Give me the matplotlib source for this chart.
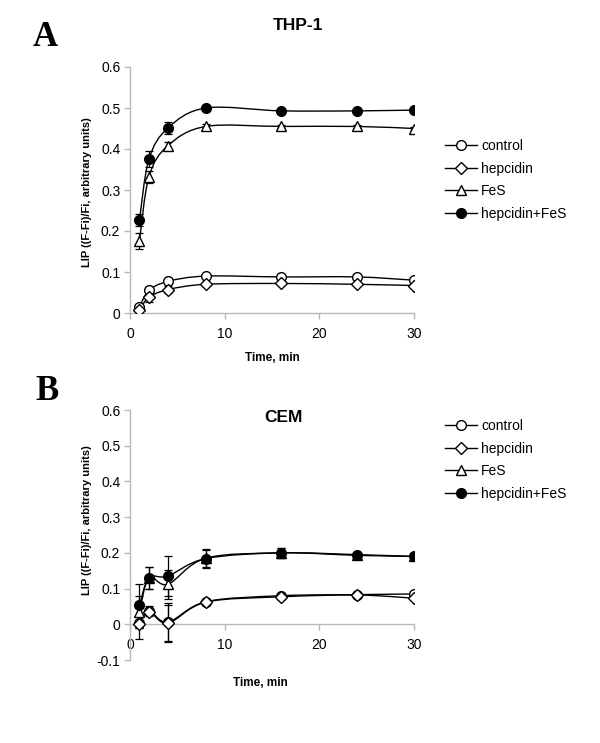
import matplotlib
matplotlib.use("Agg")
import matplotlib.pyplot as plt
import numpy as np
from matplotlib.path import Path
from matplotlib.patches import PathPatch
from matplotlib.lines import Line2D

plt.rcParams['font.family'] = ['Liberation Sans', 'DejaVu Sans']

time = [1, 2, 4, 8, 16, 24, 30]
series_names = ["control", "hepcidin", "FeS", "hepcidin+FeS"]

# Panel A: THP-1
thp_control = [0.015, 0.055, 0.077, 0.090, 0.088, 0.088, 0.080]
thp_hepcidin = [0.008, 0.038, 0.057, 0.070, 0.072, 0.070, 0.067]
thp_fes = [0.176, 0.332, 0.408, 0.455, 0.455, 0.455, 0.450]
thp_hepfes = [0.227, 0.375, 0.451, 0.500, 0.493, 0.493, 0.495]
thp_control_err = [0.004, 0.004, 0.004, 0.003, 0.003, 0.003, 0.003]
thp_hepcidin_err = [0.004, 0.012, 0.008, 0.004, 0.003, 0.003, 0.003]
thp_fes_err = [0.020, 0.015, 0.010, 0.006, 0.004, 0.004, 0.004]
thp_hepfes_err = [0.015, 0.020, 0.015, 0.005, 0.004, 0.004, 0.004]

# Panel B: CEM
cem_control = [0.004, 0.037, 0.006, 0.063, 0.080, 0.083, 0.085]
cem_hepcidin = [0.000, 0.035, 0.003, 0.062, 0.077, 0.082, 0.073]
cem_fes = [0.035, 0.130, 0.112, 0.185, 0.200, 0.195, 0.190]
cem_hepfes = [0.053, 0.130, 0.135, 0.184, 0.200, 0.193, 0.190]
cem_control_err = [0.045, 0.015, 0.055, 0.008, 0.006, 0.004, 0.004]
cem_hepcidin_err = [0.010, 0.010, 0.050, 0.008, 0.006, 0.004, 0.004]
cem_fes_err = [0.045, 0.030, 0.040, 0.025, 0.015, 0.006, 0.006]
cem_hepfes_err = [0.060, 0.030, 0.055, 0.025, 0.015, 0.006, 0.006]

styles = [
    dict(marker='o', mfc='white'),
    dict(marker='D', mfc='white', ms_scale=0.85),
    dict(marker='^', mfc='white'),
    dict(marker='o', mfc='black'),
]


def smooth_path(x, y):
    pts = np.column_stack([x, y]).astype(float)
    n = len(pts)
    verts = [pts[0]]
    codes = [Path.MOVETO]
    for i in range(n - 1):
        p0 = pts[i - 1] if i > 0 else pts[i]
        p1 = pts[i]
        p2 = pts[i + 1]
        p3 = pts[i + 2] if i + 2 < n else pts[i + 1]
        c1 = p1 + (p2 - p0) / 6.0
        c2 = p2 - (p3 - p1) / 6.0
        verts += [c1, c2, p2]
        codes += [Path.CURVE4] * 3
    return Path(verts, codes)


fig = plt.figure(figsize=(6.0, 7.43), dpi=100)
W, H = 600, 743


def make_axes(left, right, top, bottom):
    return fig.add_axes([left / W, 1 - bottom / H, (right - left) / W, (bottom - top) / H])


axA = make_axes(130, 414, 67, 313)
axB = make_axes(130, 414, 410, 660)

panels = [
    (axA, [thp_control, thp_hepcidin, thp_fes, thp_hepfes],
     [thp_control_err, thp_hepcidin_err, thp_fes_err, thp_hepfes_err], (0, 0.6)),
    (axB, [cem_control, cem_hepcidin, cem_fes, cem_hepfes],
     [cem_control_err, cem_hepcidin_err, cem_fes_err, cem_hepfes_err], (-0.1, 0.6)),
]

spine_col = '#b8b8b8'
ms = 7
for ax, data, errs, ylim in panels:
    for vals, err, st in zip(data, errs, styles):
        ax.add_patch(PathPatch(smooth_path(time, vals), fill=False, lw=1.0,
                               edgecolor='black', zorder=2))
        ax.errorbar(time, vals, yerr=err, fmt='none', ecolor='black',
                    elinewidth=0.9, capsize=3, capthick=0.9, zorder=3)
        ax.plot(time, vals, ls='none', marker=st['marker'], mfc=st['mfc'],
                mec='black', mew=1.0, ms=ms * st.get('ms_scale', 1.0), zorder=4)
    ax.set_xlim(0, 30)
    ax.set_ylim(*ylim)
    ax.set_xticks([0, 10, 20, 30])
    yt = np.round(np.arange(ylim[0], 0.61, 0.1), 1)
    ax.set_yticks(yt)
    ax.set_yticklabels(['0' if abs(v) < 1e-9 else f'{v:g}' for v in yt])
    for s in ['top', 'right']:
        ax.spines[s].set_visible(False)
    for s in ['left', 'bottom']:
        ax.spines[s].set_color(spine_col)
        ax.spines[s].set_linewidth(1.0)
    ax.spines['bottom'].set_position(('data', 0))
    ax.tick_params(axis='both', colors=spine_col, labelcolor='black', labelsize=10,
                   length=4, width=1.0)
    ax.tick_params(axis='x', pad=6)
    ax.tick_params(axis='y', pad=3)
    ax.patch.set_visible(False)
    ax.set_ylabel('LIP ((F-Fi)/Fi, arbitrary units)', fontsize=8, fontweight='bold',
                  va='center')
    ax.set_xlabel('Time, min', fontsize=8.5, fontweight='bold', va='center')

axA.yaxis.set_label_coords(-0.151, 0.49)
axA.xaxis.set_label_coords(0.5, (313 - 358) / 246)
axB.yaxis.set_label_coords(-0.151, (660 - 520) / 250)
axB.xaxis.set_label_coords(0.46, (660 - 683) / 250)

fig.text(298 / W, 1 - 25 / H, 'THP-1', ha='center', va='center', fontsize=12.5, fontweight='bold')
fig.text(283 / W, 1 - 417 / H, 'CEM', ha='center', va='center', fontsize=12.5, fontweight='bold')
fig.text(45 / W, 1 - 37 / H, 'A', ha='center', va='center', fontsize=25, fontweight='bold',
         family=['Liberation Serif', 'DejaVu Serif'])
fig.text(47 / W, 1 - 391 / H, 'B', ha='center', va='center', fontsize=25, fontweight='bold',
         family=['Liberation Serif', 'DejaVu Serif'])

handles = [Line2D([], [], color='black', lw=1.0, marker=st['marker'], mfc=st['mfc'],
                  mec='black', mew=1.0, ms=ms * st.get('ms_scale', 1.0)) for st in styles]
for top in (139, 419):
    fig.legend(handles, series_names, loc='upper left',
               bbox_to_anchor=(445 / W, 1 - top / H), frameon=False, fontsize=10,
               handlelength=2.3, handletextpad=0.3, labelspacing=0.62,
               borderpad=0, borderaxespad=0)

fig.savefig('out.png', dpi=100)
